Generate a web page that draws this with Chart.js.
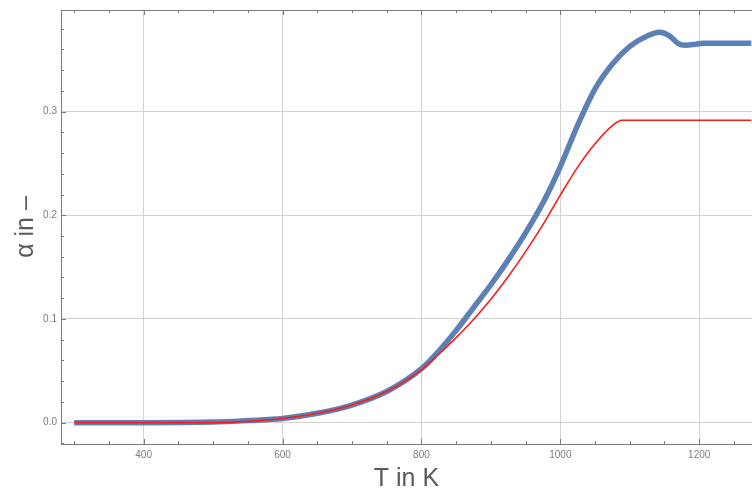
<!DOCTYPE html>
<html>
<head>
<meta charset="utf-8">
<script src="https://cdn.jsdelivr.net/npm/chart.js@4"></script>
<style>
  html, body { margin: 0; padding: 0; background: #fff; }
  #wrap { width: 752px; height: 494px; }
</style>
</head>
<body>
<div id="wrap"><canvas id="chart" width="752" height="494"></canvas></div>
<script>
// measured curve (blue, thick) and model curve (red)
const tempMeasured  = [300, 400, 500, 550, 600, 650, 700, 750, 800, 825, 850, 875, 900, 925, 950, 975, 1000, 1025, 1050, 1075, 1100, 1125, 1143, 1158, 1170, 1180, 1195, 1205, 1275];
const alphaMeasured = [0, 0, 0.0005, 0.002, 0.004, 0.009, 0.017, 0.030, 0.052, 0.069, 0.089, 0.111, 0.133, 0.157, 0.183, 0.212, 0.247, 0.287, 0.322, 0.346, 0.363, 0.373, 0.3765, 0.3726, 0.3655, 0.364, 0.365, 0.366, 0.366];

const tempModel  = [300, 400, 500, 550, 600, 650, 700, 750, 800, 825, 850, 875, 900, 925, 950, 975, 1000, 1025, 1050, 1075, 1089, 1275];
const alphaModel = [0, 0, 0, 0.0012, 0.004, 0.009, 0.017, 0.030, 0.051, 0.066, 0.082, 0.0995, 0.119, 0.141, 0.165, 0.191, 0.2195, 0.2465, 0.269, 0.2865, 0.2916, 0.2916];

const xTicks = [300, 350, 400, 450, 500, 550, 600, 650, 700, 750, 800, 850, 900, 950, 1000, 1050, 1100, 1150, 1200, 1250];
const yTicks = [-0.02, 0, 0.02, 0.04, 0.06, 0.08, 0.1, 0.12, 0.14, 0.16, 0.18, 0.2, 0.22, 0.24, 0.26, 0.28, 0.3, 0.32, 0.34, 0.36, 0.38];

const isMajorX = v => v % 200 === 0;
const isMajorY = v => Math.abs(v * 10 - Math.round(v * 10)) < 1e-6;

const toPoints = (xs, ys) => xs.map((x, i) => ({ x: x, y: ys[i] }));

const FRAME = '#7a7a7a';
const GRID  = '#d2d2d2';
const LABEL = '#7c7c7c';

// Mathematica-style frame: top line plus inward tick marks on all framed sides
const framePlugin = {
    id: 'frame',
    afterDraw(chart) {
        const { ctx, chartArea: a, scales: { x, y } } = chart;
        ctx.save();
        ctx.strokeStyle = FRAME;
        ctx.lineWidth = 1;
        ctx.beginPath();
        ctx.moveTo(a.left, a.top + 0.5);
        ctx.lineTo(a.right, a.top + 0.5);
        xTicks.forEach(v => {
            const px = Math.round(x.getPixelForValue(v)) + 0.5;
            const len = isMajorX(v) ? 5 : 3;
            ctx.moveTo(px, a.bottom); ctx.lineTo(px, a.bottom - len);
            ctx.moveTo(px, a.top);    ctx.lineTo(px, a.top + len);
        });
        yTicks.forEach(v => {
            const py = Math.round(y.getPixelForValue(v)) + 0.5;
            const len = isMajorY(v) ? 5 : 3;
            ctx.moveTo(a.left, py); ctx.lineTo(a.left + len, py);
        });
        ctx.stroke();
        ctx.restore();
    }
};

new Chart(document.getElementById('chart'), {
    type: 'scatter',
    data: {
        datasets: [
            {
                label: 'measured',
                data: toPoints(tempMeasured, alphaMeasured),
                showLine: true,
                borderColor: '#5E81B5',
                backgroundColor: '#5E81B5',
                borderWidth: 5.5,
                pointRadius: 0,
                cubicInterpolationMode: 'monotone',
                order: 2
            },
            {
                label: 'model',
                data: toPoints(tempModel, alphaModel),
                showLine: true,
                borderColor: '#ff1a1a',
                backgroundColor: '#ff1a1a',
                borderWidth: 1.6,
                pointRadius: 0,
                cubicInterpolationMode: 'monotone',
                order: 1
            }
        ]
    },
    options: {
        responsive: false,
        animation: false,
        events: [],
        layout: { padding: { top: 10, right: 0, left: 0, bottom: 0 } },
        plugins: { legend: { display: false }, tooltip: { enabled: false } },
        scales: {
            x: {
                type: 'linear',
                min: 281,
                max: 1276,
                afterBuildTicks: s => { s.ticks = xTicks.map(v => ({ value: v })); },
                afterFit: s => { s.height = 50; },
                grid: {
                    drawTicks: false,
                    color: c => (c.tick && isMajorX(c.tick.value)) ? GRID : 'rgba(0,0,0,0)'
                },
                border: { color: FRAME, width: 1 },
                ticks: {
                    autoSkip: false,
                    maxRotation: 0,
                    padding: 5,
                    color: LABEL,
                    font: { family: 'Liberation Sans, Arial, sans-serif', size: 10 },
                    callback: v => isMajorX(v) ? String(v) : ''
                },
                title: {
                    display: true,
                    text: 'T in K',
                    color: '#5a5a5a',
                    font: { family: 'Liberation Sans, Arial, sans-serif', size: 25, lineHeight: 1 },
                    padding: { top: 0, bottom: 2 }
                }
            },
            y: {
                type: 'linear',
                min: -0.0206,
                max: 0.398,
                afterBuildTicks: s => { s.ticks = yTicks.map(v => ({ value: v })); },
                afterFit: s => { s.width = 61; },
                grid: {
                    drawTicks: false,
                    color: c => (c.tick && isMajorY(c.tick.value)) ? GRID : 'rgba(0,0,0,0)'
                },
                border: { color: FRAME, width: 1 },
                ticks: {
                    autoSkip: false,
                    padding: 4,
                    color: LABEL,
                    font: { family: 'Liberation Sans, Arial, sans-serif', size: 10 },
                    callback: v => isMajorY(v) ? v.toFixed(1) : ''
                },
                title: {
                    display: true,
                    text: 'α in –',
                    color: '#5a5a5a',
                    font: { family: 'Liberation Sans, Arial, sans-serif', size: 25, lineHeight: 1.2 },
                    padding: { top: 11, bottom: 0 }
                }
            }
        }
    },
    plugins: [framePlugin]
});
</script>
</body>
</html>
